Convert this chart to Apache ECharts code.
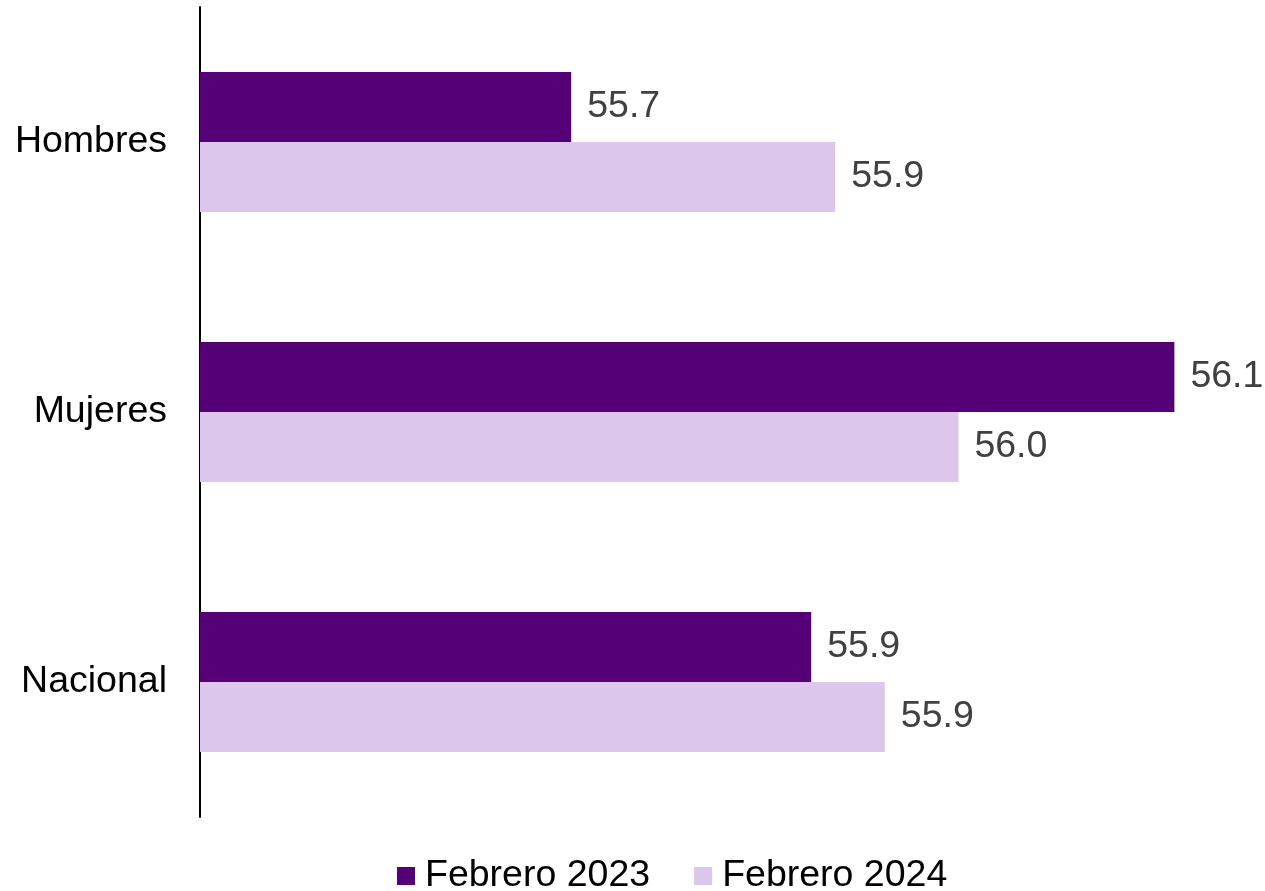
<!DOCTYPE html>
<html>
<head>
<meta charset="utf-8">
<script src="https://cdn.jsdelivr.net/npm/echarts@6/dist/echarts.min.js"></script>
<style>
  html, body { margin: 0; padding: 0; background: #fff; }
  #chart { width: 1265px; height: 891px; }
</style>
</head>
<body>
<div id="chart"></div>
<script>
// categorias y valores
var categorias = ['Hombres', 'Mujeres', 'Nacional'];
var febrero2023 = [55.732, 56.109, 55.882];
var febrero2024 = [55.897, 55.974, 55.928];

var miGrafico = echarts.init(document.getElementById('chart'));

var etiqueta = {
  show: true,
  position: 'right',
  distance: 16,
  fontFamily: 'Liberation Sans, Arial, sans-serif',
  fontSize: 37.5,
  color: '#404040',
  padding: [4, 0, 0, 0],
  formatter: function (p) { return p.value.toFixed(1); }
};

var opcion = {
  animation: false,
  backgroundColor: '#fff',
  grid: { left: 200, right: 25, top: 7, bottom: 74 },
  legend: {
    bottom: -9,
    left: 392,
    icon: 'rect',
    itemWidth: 18,
    itemHeight: 18,
    itemGap: 44,
    textStyle: {
      fontFamily: 'Liberation Sans, Arial, sans-serif',
      fontSize: 37.5,
      color: '#000',
      padding: [0, 0, 0, 5]
    },
    data: ['Febrero 2023', 'Febrero 2024']
  },
  xAxis: {
    type: 'value',
    min: 55.5,
    max: 56.15,
    show: false,
    splitLine: { show: false }
  },
  yAxis: {
    type: 'category',
    inverse: true,
    data: categorias,
    axisLine: { show: true, lineStyle: { color: '#000', width: 2 } },
    axisTick: { show: false },
    axisLabel: {
      margin: 33,
      fontFamily: 'Liberation Sans, Arial, sans-serif',
      fontSize: 37.5,
      color: '#000'
    }
  },
  series: [
    {
      name: 'Febrero 2023',
      type: 'bar',
      barWidth: 70,
      barGap: '0%',
      itemStyle: { color: '#560078' },
      label: etiqueta,
      data: febrero2023
    },
    {
      name: 'Febrero 2024',
      type: 'bar',
      barWidth: 70,
      barGap: '0%',
      itemStyle: { color: '#dcc6ec' },
      label: etiqueta,
      data: febrero2024
    }
  ]
};

miGrafico.setOption(opcion);
</script>
</body>
</html>
